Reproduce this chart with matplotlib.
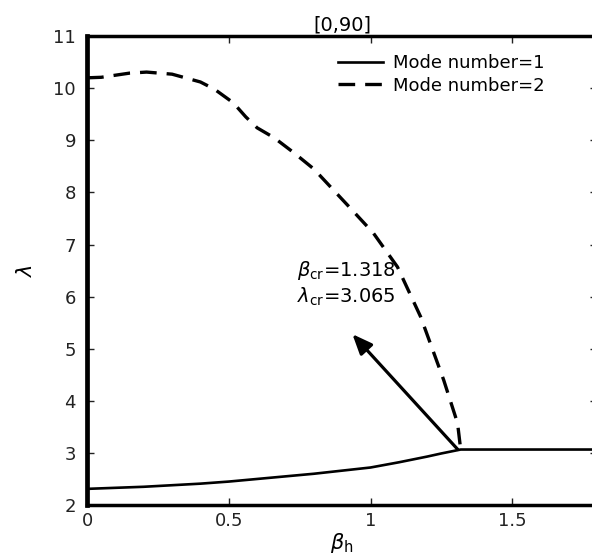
import matplotlib
matplotlib.use('Agg')
import matplotlib.pyplot as plt

plt.rcParams['font.family'] = ['DejaVu Sans']
plt.rcParams['mathtext.fontset'] = 'dejavusans'

# mode 1 (solid)
beta1 = [0, 0.1, 0.2, 0.3, 0.4, 0.5, 0.6, 0.7, 0.8, 0.9, 1.0, 1.1, 1.2, 1.25, 1.318, 1.5, 1.8]
lam1 = [2.31, 2.33, 2.35, 2.38, 2.41, 2.45, 2.5, 2.55, 2.6, 2.66, 2.72, 2.82, 2.93, 2.99, 3.065, 3.065, 3.065]
# mode 2 (dashed)
beta2 = [0, 0.05, 0.1, 0.15, 0.21, 0.3, 0.4, 0.45, 0.516, 0.56, 0.6, 0.66, 0.73, 0.8, 0.86,
         0.92, 1.01, 1.095, 1.177, 1.258, 1.307, 1.318]
lam2 = [10.2, 10.21, 10.25, 10.29, 10.31, 10.27, 10.12, 9.98, 9.72, 9.45, 9.24, 9.05, 8.76, 8.45, 8.1,
        7.75, 7.22, 6.57, 5.61, 4.4, 3.57, 3.065]
beta_cr = 1.318
lam_cr = 3.065

fig = plt.figure(figsize=(5.92, 5.56), dpi=100)
ax = fig.add_axes([0.147, 0.0917, 0.862, 0.8433])

ax.plot(beta1, lam1, 'k-', linewidth=1.9, label='Mode number=1')
ax.plot(beta2, lam2, color='k', linestyle=(0, (5, 3)), linewidth=2.4, label='Mode number=2')

ax.annotate('', xy=(0.936, 5.28), xytext=(beta_cr - 0.01, lam_cr),
            arrowprops=dict(arrowstyle='-|>,head_length=1.2,head_width=0.5', color='k', lw=2.3,
                            shrinkA=0, shrinkB=0))
ax.text(0.742, 6.51, r'$\beta_{\rm cr}$=%.3f' % beta_cr, fontsize=14, va='center')
ax.text(0.742, 5.99, r'$\lambda_{\rm cr}$=%.3f' % lam_cr, fontsize=14, va='center')

ax.set_xlim(0, 1.8)
ax.set_ylim(2, 11)
ax.set_xticks([0, 0.5, 1, 1.5])
ax.set_xticklabels(['0', '0.5', '1', '1.5'])
ax.set_yticks(range(2, 12))
ax.tick_params(direction='in', length=5, width=1, labelsize=13, top=True, right=True, colors='#222222')
ax.tick_params(axis='x', pad=5)
ax.tick_params(axis='y', pad=8)
for s in ax.spines.values():
    s.set_linewidth(2.5)
ax.spines['left'].set_linewidth(3.4)

ax.set_title('[0,90]', fontsize=14, pad=4)
ax.set_xlabel(r'$\beta_{\rm h}$', fontsize=15, labelpad=1)
ax.set_ylabel(r'$\lambda$', fontsize=15, labelpad=12)

ax.legend(loc='upper right', bbox_to_anchor=(0.918, 0.985), frameon=False, fontsize=13,
          handlelength=2.5, handletextpad=0.55, labelspacing=0.25, borderaxespad=0.2)

fig.savefig('out.png', dpi=100)
